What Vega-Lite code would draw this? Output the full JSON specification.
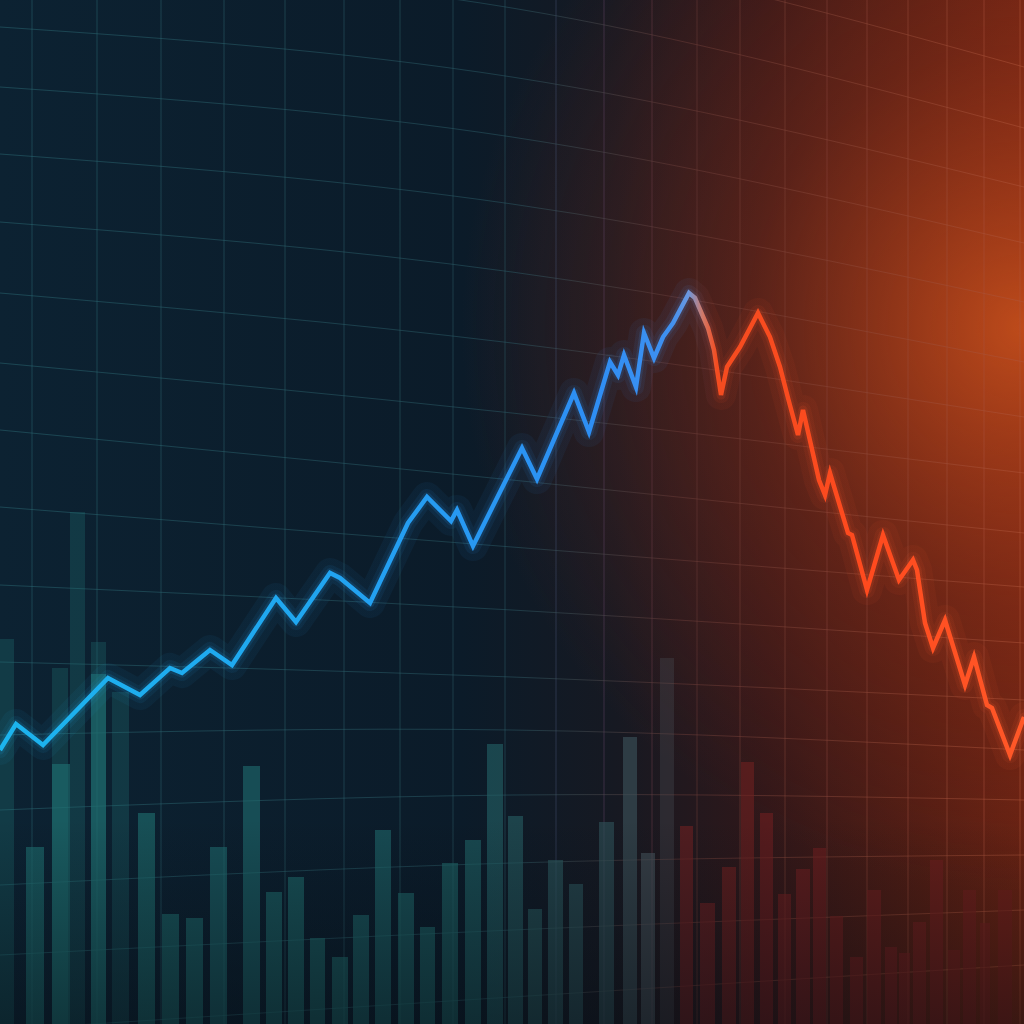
{
  "$schema": "https://vega.github.io/schema/vega-lite/v6.json",
  "width": 1024,
  "height": 1024,
  "padding": 0,
  "autosize": {"type": "none"},
  "background": "#0b1c2a",
  "config": {"view": {"stroke": null}},
  "layer": [
    {
      "data": {"values": [{"id": 1}]},
      "mark": {"type": "rect", "fill": {"gradient": "linear", "x1": 0, "y1": 0, "x2": 1, "y2": 0, "stops": [
        {"offset": 0, "color": "#0c2232"},
        {"offset": 0.45, "color": "#0b1b29"},
        {"offset": 0.6, "color": "#161922"},
        {"offset": 0.75, "color": "#301719"},
        {"offset": 0.9, "color": "#501d14"},
        {"offset": 1, "color": "#662213"}
      ]}},
      "encoding": {}
    },
    {
      "data": {"values": [{"id": 1}]},
      "mark": {"type": "rect", "fill": {"gradient": "radial", "x1": 1, "y1": 0.32, "r1": 0, "x2": 1, "y2": 0.32, "r2": 0.55, "stops": [
        {"offset": 0, "color": "rgba(205,82,28,0.85)"},
        {"offset": 0.5, "color": "rgba(170,55,25,0.32)"},
        {"offset": 1, "color": "rgba(150,40,20,0)"}
      ]}},
      "encoding": {}
    },
    {
      "data": {"values": [
        {"gx": 32}, {"gx": 97}, {"gx": 161}, {"gx": 224}, {"gx": 285}, {"gx": 344}, {"gx": 400},
        {"gx": 453}, {"gx": 505}, {"gx": 556}, {"gx": 604}, {"gx": 652}, {"gx": 697}, {"gx": 740},
        {"gx": 785}, {"gx": 827}, {"gx": 867}, {"gx": 908}, {"gx": 947}, {"gx": 984}, {"gx": 1020}
      ]},
      "mark": {"type": "rule", "strokeWidth": 1, "opacity": 0.5},
      "encoding": {
        "x": {"field": "gx", "type": "quantitative", "scale": {"domain": [0, 1024], "nice": false, "zero": false}, "axis": null},
        "stroke": {"field": "gx", "type": "quantitative", "scale": {"domain": [0, 500, 680, 1024], "range": ["#2a6a74", "#2c5d68", "#6a3c38", "#b0553a"]}, "legend": null}
      }
    },
    {
      "data": {"values": [
        {"k": 0, "gx": 0, "gy": 1137}, {"k": 0, "gx": 512, "gy": 1082}, {"k": 0, "gx": 1024, "gy": 957},
        {"k": 1, "gx": 0, "gy": 1066}, {"k": 1, "gx": 512, "gy": 1016}, {"k": 1, "gx": 1024, "gy": 896},
        {"k": 2, "gx": 0, "gy": 997}, {"k": 2, "gx": 512, "gy": 947}, {"k": 2, "gx": 1024, "gy": 837},
        {"k": 3, "gx": 0, "gy": 937}, {"k": 3, "gx": 512, "gy": 887}, {"k": 3, "gx": 1024, "gy": 781},
        {"k": 4, "gx": 0, "gy": 870}, {"k": 4, "gx": 512, "gy": 820}, {"k": 4, "gx": 1024, "gy": 722},
        {"k": 5, "gx": 0, "gy": 802}, {"k": 5, "gx": 512, "gy": 752}, {"k": 5, "gx": 1024, "gy": 662},
        {"k": 6, "gx": 0, "gy": 731}, {"k": 6, "gx": 512, "gy": 681}, {"k": 6, "gx": 1024, "gy": 607},
        {"k": 7, "gx": 0, "gy": 661}, {"k": 7, "gx": 512, "gy": 611}, {"k": 7, "gx": 1024, "gy": 551},
        {"k": 8, "gx": 0, "gy": 594}, {"k": 8, "gx": 512, "gy": 544}, {"k": 8, "gx": 1024, "gy": 491},
        {"k": 9, "gx": 0, "gy": 517}, {"k": 9, "gx": 512, "gy": 477}, {"k": 9, "gx": 1024, "gy": 437},
        {"k": 10, "gx": 0, "gy": 439}, {"k": 10, "gx": 512, "gy": 414}, {"k": 10, "gx": 1024, "gy": 381},
        {"k": 11, "gx": 0, "gy": 362}, {"k": 11, "gx": 512, "gy": 347}, {"k": 11, "gx": 1024, "gy": 324},
        {"k": 12, "gx": 0, "gy": 289}, {"k": 12, "gx": 512, "gy": 294}, {"k": 12, "gx": 1024, "gy": 274},
        {"k": 13, "gx": 0, "gy": 214}, {"k": 13, "gx": 512, "gy": 229}, {"k": 13, "gx": 1024, "gy": 224},
        {"k": 14, "gx": 0, "gy": 139}, {"k": 14, "gx": 512, "gy": 161}, {"k": 14, "gx": 1024, "gy": 169},
        {"k": 15, "gx": 0, "gy": 69}, {"k": 15, "gx": 512, "gy": 94}, {"k": 15, "gx": 1024, "gy": 114},
        {"k": 16, "gx": 0, "gy": -6}, {"k": 16, "gx": 512, "gy": 27}, {"k": 16, "gx": 1024, "gy": 59}
      ]},
      "mark": {"type": "line", "clip": true, "interpolate": "natural", "strokeWidth": 1, "opacity": 0.5,
        "stroke": {"gradient": "linear", "x1": 0, "y1": 0, "x2": 1, "y2": 0, "stops": [
          {"offset": 0, "color": "#2a6a74"},
          {"offset": 0.5, "color": "#2c5d68"},
          {"offset": 0.66, "color": "#6a3c38"},
          {"offset": 1, "color": "#b0553a"}
        ]}},
      "encoding": {
        "x": {"field": "gx", "type": "quantitative", "scale": {"domain": [0, 1024], "nice": false, "zero": false}, "axis": null},
        "y": {"field": "gy", "type": "quantitative", "scale": {"domain": [0, 1024], "nice": false, "zero": false}, "axis": null},
        "detail": {"field": "k", "type": "nominal"}
      }
    },
    {
      "data": {"values": [
        {"x0": 0, "x1": 14, "v": 385},
        {"x0": 52, "x1": 68, "v": 356},
        {"x0": 70, "x1": 85, "v": 512},
        {"x0": 91, "x1": 106, "v": 382},
        {"x0": 112, "x1": 129, "v": 332},
        {"x0": 660, "x1": 674, "v": 366}
      ]},
      "mark": {"type": "rect", "opacity": 0.32},
      "encoding": {
        "x": {"field": "x0", "type": "quantitative", "scale": {"domain": [0, 1024], "nice": false, "zero": false}, "axis": null},
        "x2": {"field": "x1"},
        "y": {"field": "v", "type": "quantitative", "scale": {"domain": [0, 1024], "nice": false, "zero": false}, "axis": null},
        "y2": {"datum": 0},
        "fill": {"field": "x0", "type": "quantitative", "scale": {"domain": [0, 450, 600, 662, 676, 1024], "range": ["#1f7072", "#1e6668", "#2f5258", "#4c5258", "#6e2022", "#6e1e1c"]}, "legend": null}
      }
    },
    {
      "data": {"values": [
        {"x0": 26, "x1": 44, "v": 177},
        {"x0": 52, "x1": 70, "v": 260},
        {"x0": 91, "x1": 106, "v": 350},
        {"x0": 138, "x1": 155, "v": 211},
        {"x0": 162, "x1": 179, "v": 110},
        {"x0": 186, "x1": 203, "v": 106},
        {"x0": 210, "x1": 227, "v": 177},
        {"x0": 243, "x1": 260, "v": 258},
        {"x0": 266, "x1": 282, "v": 132},
        {"x0": 288, "x1": 304, "v": 147},
        {"x0": 310, "x1": 325, "v": 86},
        {"x0": 332, "x1": 348, "v": 67},
        {"x0": 353, "x1": 369, "v": 109},
        {"x0": 375, "x1": 391, "v": 194},
        {"x0": 398, "x1": 414, "v": 131},
        {"x0": 420, "x1": 435, "v": 97},
        {"x0": 442, "x1": 458, "v": 161},
        {"x0": 465, "x1": 481, "v": 184},
        {"x0": 487, "x1": 503, "v": 280},
        {"x0": 508, "x1": 523, "v": 208},
        {"x0": 528, "x1": 542, "v": 115},
        {"x0": 548, "x1": 563, "v": 164},
        {"x0": 569, "x1": 583, "v": 140},
        {"x0": 599, "x1": 614, "v": 202},
        {"x0": 623, "x1": 637, "v": 287},
        {"x0": 641, "x1": 655, "v": 171},
        {"x0": 680, "x1": 693, "v": 198},
        {"x0": 700, "x1": 715, "v": 121},
        {"x0": 722, "x1": 736, "v": 157},
        {"x0": 741, "x1": 754, "v": 262},
        {"x0": 760, "x1": 773, "v": 211},
        {"x0": 778, "x1": 791, "v": 130},
        {"x0": 796, "x1": 810, "v": 155},
        {"x0": 813, "x1": 826, "v": 176},
        {"x0": 830, "x1": 843, "v": 108},
        {"x0": 850, "x1": 863, "v": 67},
        {"x0": 867, "x1": 881, "v": 134},
        {"x0": 885, "x1": 897, "v": 77},
        {"x0": 899, "x1": 910, "v": 71},
        {"x0": 913, "x1": 926, "v": 102},
        {"x0": 930, "x1": 943, "v": 164},
        {"x0": 948, "x1": 960, "v": 74},
        {"x0": 963, "x1": 976, "v": 134},
        {"x0": 980, "x1": 990, "v": 101},
        {"x0": 998, "x1": 1012, "v": 134}
      ]},
      "mark": {"type": "rect", "opacity": 0.62},
      "encoding": {
        "x": {"field": "x0", "type": "quantitative", "scale": {"domain": [0, 1024], "nice": false, "zero": false}, "axis": null},
        "x2": {"field": "x1"},
        "y": {"field": "v", "type": "quantitative", "scale": {"domain": [0, 1024], "nice": false, "zero": false}, "axis": null},
        "y2": {"datum": 0},
        "fill": {"field": "x0", "type": "quantitative", "scale": {"domain": [0, 450, 600, 662, 676, 1024], "range": ["#1f7072", "#1e6668", "#2f5258", "#4c5258", "#6e2022", "#6e1e1c"]}, "legend": null}
      }
    },
    {
      "data": {"values": [{"id": 1}]},
      "mark": {"type": "rect", "fill": {"gradient": "linear", "x1": 0, "y1": 0, "x2": 0, "y2": 1, "stops": [
        {"offset": 0, "color": "rgba(5,10,16,0)"},
        {"offset": 0.8, "color": "rgba(5,10,16,0)"},
        {"offset": 1, "color": "rgba(5,10,16,0.45)"}
      ]}},
      "encoding": {}
    },
    {
      "data": {"name": "series"},
      "mark": {"type": "line", "strokeWidth": 30, "opacity": 0.06, "strokeJoin": "round", "strokeCap": "round",
        "stroke": {"gradient": "linear", "x1": 0, "y1": 0, "x2": 1, "y2": 0, "stops": [
          {"offset": 0, "color": "#19a6e2"}, {"offset": 0.6, "color": "#2a8cf2"},
          {"offset": 0.672, "color": "#4a8ee8"}, {"offset": 0.7, "color": "#f04a22"}, {"offset": 1, "color": "#ff5a2a"}
        ]}},
      "encoding": {
        "x": {"field": "t", "type": "quantitative", "scale": {"domain": [0, 1024], "nice": false, "zero": false}, "axis": null},
        "y": {"field": "v", "type": "quantitative", "scale": {"domain": [0, 1024], "nice": false, "zero": false}, "axis": null}
      }
    },
    {
      "data": {"name": "series"},
      "mark": {"type": "line", "strokeWidth": 16, "opacity": 0.08, "strokeJoin": "round", "strokeCap": "round",
        "stroke": {"gradient": "linear", "x1": 0, "y1": 0, "x2": 1, "y2": 0, "stops": [
          {"offset": 0, "color": "#19a6e2"}, {"offset": 0.6, "color": "#2a8cf2"},
          {"offset": 0.672, "color": "#4a8ee8"}, {"offset": 0.7, "color": "#f04a22"}, {"offset": 1, "color": "#ff5a2a"}
        ]}},
      "encoding": {
        "x": {"field": "t", "type": "quantitative", "scale": {"domain": [0, 1024], "nice": false, "zero": false}, "axis": null},
        "y": {"field": "v", "type": "quantitative", "scale": {"domain": [0, 1024], "nice": false, "zero": false}, "axis": null}
      }
    },
    {
      "data": {"name": "series"},
      "mark": {"type": "line", "strokeWidth": 9, "opacity": 0.14, "strokeJoin": "round", "strokeCap": "round",
        "stroke": {"gradient": "linear", "x1": 0, "y1": 0, "x2": 1, "y2": 0, "stops": [
          {"offset": 0, "color": "#19a6e2"}, {"offset": 0.6, "color": "#2a8cf2"},
          {"offset": 0.672, "color": "#4a8ee8"}, {"offset": 0.7, "color": "#f04a22"}, {"offset": 1, "color": "#ff5a2a"}
        ]}},
      "encoding": {
        "x": {"field": "t", "type": "quantitative", "scale": {"domain": [0, 1024], "nice": false, "zero": false}, "axis": null},
        "y": {"field": "v", "type": "quantitative", "scale": {"domain": [0, 1024], "nice": false, "zero": false}, "axis": null}
      }
    },
    {
      "data": {"name": "series"},
      "mark": {"type": "line", "strokeWidth": 4.5, "strokeJoin": "miter", "strokeCap": "butt",
        "stroke": {"gradient": "linear", "x1": 0, "y1": 0, "x2": 1, "y2": 0, "stops": [
          {"offset": 0, "color": "#1cb4ee"}, {"offset": 0.3, "color": "#20a6f0"}, {"offset": 0.58, "color": "#2e8ef4"},
          {"offset": 0.655, "color": "#3f90f0"}, {"offset": 0.672, "color": "#6a98e0"}, {"offset": 0.686, "color": "#d07a6a"},
          {"offset": 0.7, "color": "#f44c20"}, {"offset": 0.85, "color": "#ff4a1e"}, {"offset": 1, "color": "#ff5828"}
        ]}},
      "encoding": {
        "x": {"field": "t", "type": "quantitative", "scale": {"domain": [0, 1024], "nice": false, "zero": false}, "axis": null},
        "y": {"field": "v", "type": "quantitative", "scale": {"domain": [0, 1024], "nice": false, "zero": false}, "axis": null}
      }
    }
  ],
  "datasets": {
    "series": [
      {"t": 0, "v": 274}, {"t": 16, "v": 300}, {"t": 43, "v": 279}, {"t": 108, "v": 346},
      {"t": 140, "v": 329}, {"t": 170, "v": 356}, {"t": 182, "v": 351}, {"t": 210, "v": 374},
      {"t": 232, "v": 359}, {"t": 276, "v": 426}, {"t": 296, "v": 402}, {"t": 330, "v": 451},
      {"t": 340, "v": 446}, {"t": 370, "v": 421}, {"t": 408, "v": 501}, {"t": 427, "v": 527},
      {"t": 451, "v": 503}, {"t": 457, "v": 514}, {"t": 473, "v": 478}, {"t": 522, "v": 576},
      {"t": 537, "v": 545}, {"t": 574, "v": 631}, {"t": 589, "v": 592}, {"t": 610, "v": 662},
      {"t": 618, "v": 649}, {"t": 624, "v": 669}, {"t": 636, "v": 637}, {"t": 644, "v": 691},
      {"t": 654, "v": 666}, {"t": 663, "v": 687}, {"t": 673, "v": 701}, {"t": 689, "v": 731},
      {"t": 695, "v": 726}, {"t": 708, "v": 696}, {"t": 714, "v": 674}, {"t": 721, "v": 629},
      {"t": 727, "v": 657}, {"t": 740, "v": 677}, {"t": 758, "v": 711}, {"t": 770, "v": 687},
      {"t": 780, "v": 657}, {"t": 788, "v": 626}, {"t": 798, "v": 589}, {"t": 803, "v": 614},
      {"t": 819, "v": 544}, {"t": 825, "v": 529}, {"t": 830, "v": 551}, {"t": 848, "v": 491},
      {"t": 852, "v": 489}, {"t": 867, "v": 434}, {"t": 883, "v": 489}, {"t": 899, "v": 444},
      {"t": 913, "v": 464}, {"t": 917, "v": 454}, {"t": 925, "v": 401}, {"t": 933, "v": 376},
      {"t": 945, "v": 404}, {"t": 965, "v": 339}, {"t": 974, "v": 367}, {"t": 987, "v": 319},
      {"t": 992, "v": 316}, {"t": 1010, "v": 269}, {"t": 1024, "v": 307}
    ]
  }
}
